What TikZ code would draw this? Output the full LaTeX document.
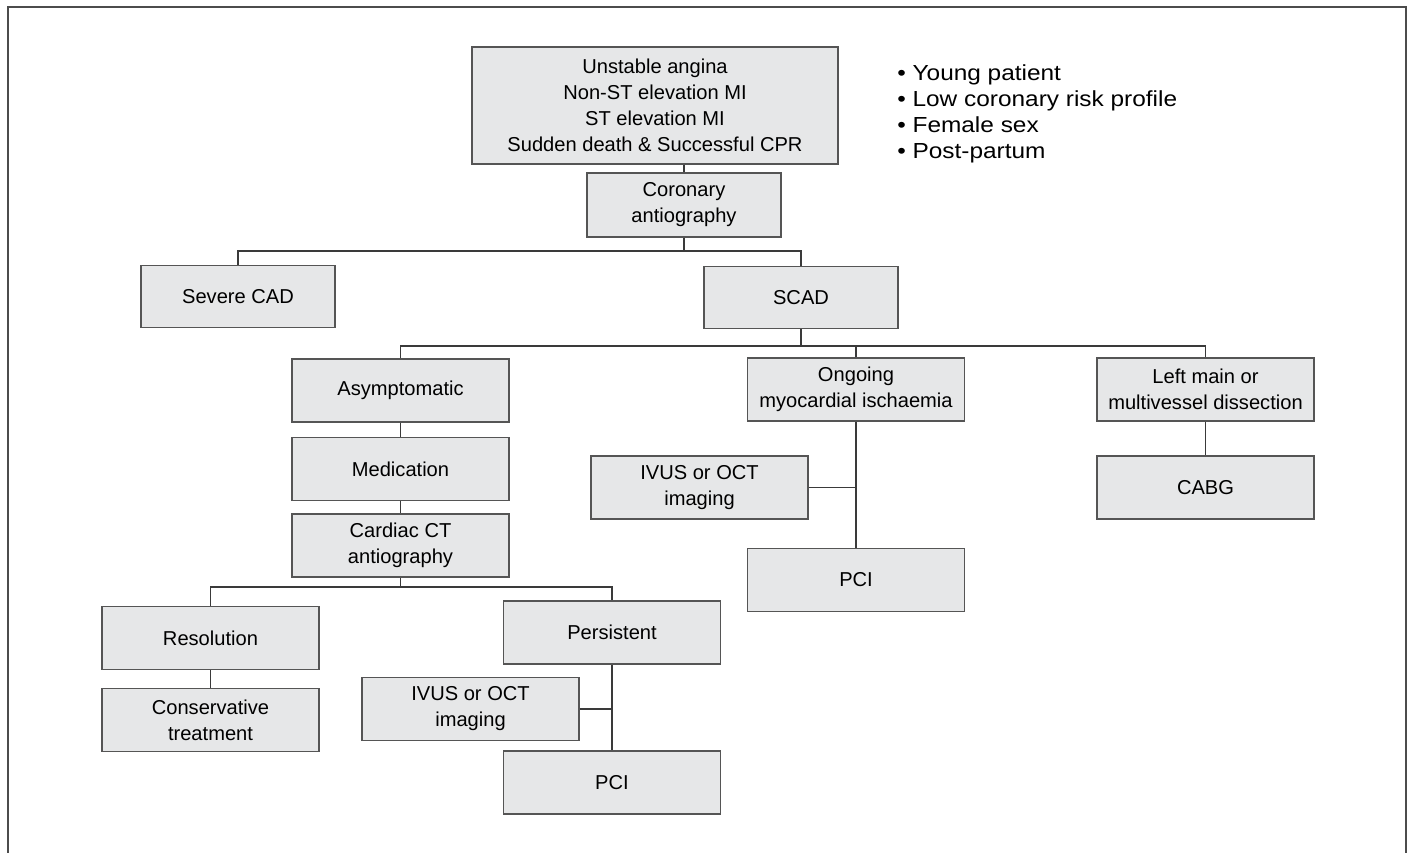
\documentclass[tikz,border=0pt]{standalone}
\usepackage{fontspec}
\setmainfont{Liberation Sans}
\newfontfamily\riskfont[FakeStretch=1.12]{Liberation Sans}
\usepackage{tikz}

\definecolor{boxfill}{HTML}{E6E7E8}
\definecolor{boxline}{HTML}{555555}
\definecolor{wire}{HTML}{3A3A3A}

\begin{document}
\begin{tikzpicture}[x=0.025cm, y=-0.025cm,
		box/.style={draw=boxline, fill=boxfill, line width=1pt, inner sep=0pt,
			align=center, font=\fontsize{14.3}{18.5}\selectfont},
		wide/.style={box, minimum width=217*0.025cm, minimum height=63*0.025cm},
		narrow/.style={box, minimum width=194*0.025cm, minimum height=62*0.025cm},
		risk/.style={inner sep=0pt, font=\riskfont\fontsize{15.5}{18}\selectfont},
		wire/.style={draw=wire, line width=0.8pt}]
		\useasboundingbox (0, 0) rectangle (1412, 853);
		
		% frame, its bottom edge lies off the page
		\draw[boxline!90!black, line width=1.6pt] (8, 860) -- (8, 7) -- (1406, 7) -- (1406, 860);
		
		% presentation and angiography
		\node[box, minimum width=366*0.025cm, minimum height=117*0.025cm] (present) at (655, 105.5)
			{Unstable angina\\Non-ST elevation MI\\ST elevation MI\\Sudden death \& Successful CPR};
		\node[narrow, minimum height=64*0.025cm] (angio) at (684, 205) {Coronary\\antiography};
		
		% risk profile
		\foreach \t [count=\i] in {Young patient, Low coronary risk profile, Female sex, Post-partum}
			\node[risk, anchor=base west] (risk\i) at (897, 55+26*\i) {\textbullet\ \t};
		
		% first split
		\node[narrow] (cad) at (238, 296.5) {Severe CAD};
		\node[narrow] (scad) at (801, 297.5) {SCAD};
		
		% SCAD branches
		\node[wide] (asym) at (400.5, 390.5) {Asymptomatic};
		\node[wide] (ongoing) at (856, 389.5) {Ongoing\\myocardial ischaemia};
		\node[wide] (leftmain) at (1205.5, 389.5) {Left main or\\multivessel dissection};
		
		\node[wide] (medic) at (400.5, 469) {Medication};
		\node[wide] (cardct) at (400.5, 545.5) {Cardiac CT\\antiography};
		
		\node[wide] (ivusA) at (699.5, 487.5) {IVUS or OCT\\imaging};
		\node[wide] (pciA) at (856, 580) {PCI};
		\node[wide] (cabg) at (1205.5, 487.5) {CABG};
		
		% CT follow-up
		\node[wide] (resol) at (210.5, 638) {Resolution};
		\node[wide] (conserv) at (210.5, 720) {Conservative\\treatment};
		\node[wide] (persist) at (612, 632.5) {Persistent};
		\node[wide] (ivusB) at (470.5, 709) {IVUS or OCT\\imaging};
		\node[wide] (pciB) at (612, 782.5) {PCI};
		
		% connectors
		\draw[wire] (present.south -| angio.north) -- (angio.north);
		\draw[wire] (angio.south) -- (684, 251);
		\draw[wire] (cad.north) |- (684, 251) -| (scad.north);
		
		\draw[wire] (scad.south) -- (801, 346);
		\draw[wire] (asym.north) |- (801, 346) -| (leftmain.north);
		\draw[wire] (ongoing.north) -- (ongoing.north |- 0, 346);
		
		\draw[wire] (asym) -- (medic);
		\draw[wire] (medic) -- (cardct);
		\draw[wire] (ongoing) -- (pciA);
		\draw[wire] (ivusA.east) -- (ivusA.east -| ongoing.south);
		\draw[wire] (leftmain) -- (cabg);
		
		\draw[wire] (cardct.south) -- (400.5, 587);
		\draw[wire] (resol.north) |- (400.5, 587) -| (persist.north);
		\draw[wire] (resol) -- (conserv);
		\draw[wire] (persist) -- (pciB);
		\draw[wire] (ivusB.east) -- (ivusB.east -| persist.south);
	\end{tikzpicture}
\end{document}
